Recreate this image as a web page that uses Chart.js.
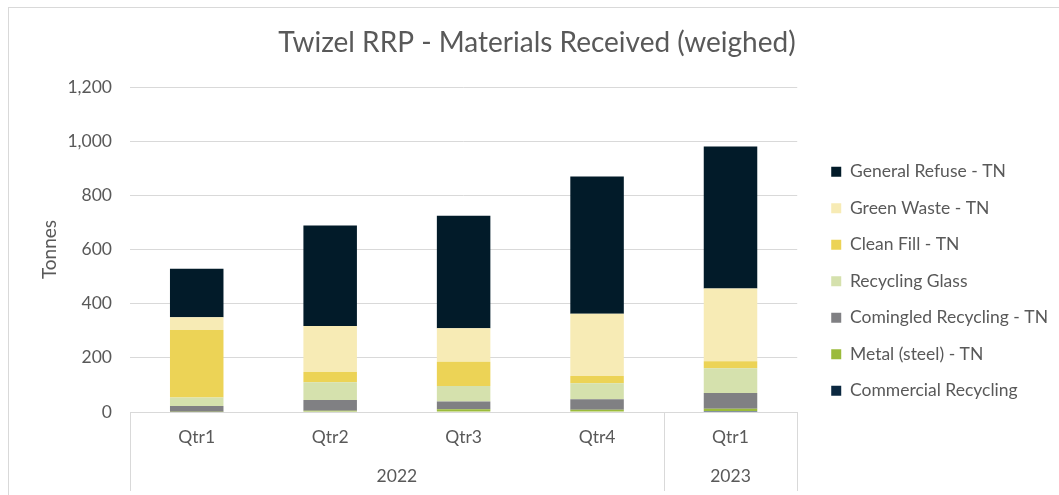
<!DOCTYPE html>
<html><head><meta charset="utf-8">
<script src="https://cdn.jsdelivr.net/npm/chart.js@4"></script>
<style>
html,body{margin:0;padding:0;background:#fff;overflow:hidden}
#wrap{position:relative;width:1059px;height:495px}
#frame{position:absolute;left:8px;top:7px;width:1100px;height:600px;border:1px solid #d9d9d9;pointer-events:none}
</style></head><body>
<div id="wrap"><canvas id="c" width="1059" height="495"></canvas><div id="frame"></div></div>
<script>
const categories = ['Qtr1', 'Qtr2', 'Qtr3', 'Qtr4', 'Qtr1'];
const yearGroups = ['2022', '2022', '2022', '2022', '2023'];

const commercialRecycling = [0, 0, 0, 0, 4];
const metalSteel = [1, 5, 10, 8, 8];
const comingledRecycling = [21, 39, 29, 39, 58];
const recyclingGlass = [32, 66, 57, 59, 92];
const cleanFill = [249, 38, 90, 27, 25];
const greenWaste = [47, 170, 123, 230, 269];
const generalRefuse = [179, 371, 416, 507, 524];

const yMax = 1200;
const yStep = 200;

const seriesNames = ['Commercial Recycling', 'Metal (steel) - TN', 'Comingled Recycling - TN', 'Recycling Glass', 'Clean Fill - TN', 'Green Waste - TN', 'General Refuse - TN'];
const seriesValues = [commercialRecycling, metalSteel, comingledRecycling, recyclingGlass, cleanFill, greenWaste, generalRefuse];
const seriesColors = ['#0b2840', '#9bbb3b', '#808083', '#d5e1ad', '#ecd356', '#f7ebb5', '#021b29'];

const textColor = '#595959';
const gridColor = '#d9d9d9';
const fontFamily = 'Lato, "Open Sans", sans-serif';
const tickFontSize = 17.5;

// group consecutive categories by year
const groups = [];
yearGroups.forEach((y, i) => {
  const g = groups[groups.length - 1];
  if (g && g.label === y) g.end = i; else groups.push({label: y, start: i, end: i});
});

const yearAxisPlugin = {
  id: 'yearAxis',
  afterDraw(chart) {
    const xs = chart.scales.x;
    const ctx = chart.ctx;
    const half = (xs.getPixelForValue(1) - xs.getPixelForValue(0)) / 2;
    const lineTop = xs.top;
    const lineBottom = chart.height - 4;
    ctx.save();
    ctx.strokeStyle = gridColor;
    ctx.lineWidth = 1;
    const edges = [xs.getPixelForValue(0) - half].concat(groups.map(g => xs.getPixelForValue(g.end) + half));
    edges.forEach(px => {
      const x = Math.round(px) + 0.5;
      ctx.beginPath(); ctx.moveTo(x, lineTop); ctx.lineTo(x, lineBottom); ctx.stroke();
    });
    ctx.fillStyle = textColor;
    ctx.font = tickFontSize + 'px ' + fontFamily;
    ctx.textAlign = 'center';
    ctx.textBaseline = 'middle';
    groups.forEach(g => {
      const cx = (xs.getPixelForValue(g.start) + xs.getPixelForValue(g.end)) / 2;
      ctx.fillText(g.label, cx, xs.bottom + 14);
    });
    ctx.restore();
  }
};

new Chart(document.getElementById('c'), {
  type: 'bar',
  data: {
    labels: categories,
    datasets: seriesNames.map((n, i) => ({
      label: n,
      data: seriesValues[i],
      backgroundColor: seriesColors[i],
      borderWidth: 0,
      barPercentage: 0.401,
      categoryPercentage: 1
    }))
  },
  options: {
    responsive: false,
    devicePixelRatio: 1,
    animation: false,
    layout: {padding: {left: 16, right: 1, top: 18, bottom: 33}},
    plugins: {
      title: {
        display: true,
        text: 'Twizel RRP - Materials Received (weighed)',
        color: textColor,
        font: {family: fontFamily, size: 28, weight: 'normal'},
        padding: {top: 8.2, bottom: 27.2}
      },
      legend: {
        position: 'right',
        reverse: true,
        maxWidth: 400,
        title: {display: true, text: '', font: {family: fontFamily, size: 16}, padding: {top: 31, bottom: 32.3}},
        labels: {
          boxWidth: 10, boxHeight: 10, padding: 19,
          color: textColor,
          font: {family: fontFamily, size: tickFontSize}
        }
      },
      tooltip: {enabled: false}
    },
    scales: {
      x: {
        stacked: true,
        ticks: {color: textColor, font: {family: fontFamily, size: tickFontSize}, padding: 14.5, maxRotation: 0, autoSkip: false},
        grid: {display: false, drawTicks: false},
        border: {display: true, color: gridColor, width: 1}
      },
      y: {
        stacked: true,
        min: 0,
        max: yMax,
        afterFit: s => { s.width = 114; },
        ticks: {stepSize: yStep, color: textColor, font: {family: fontFamily, size: tickFontSize}, padding: 18},
        grid: {color: gridColor, drawTicks: false},
        border: {display: false},
        title: {display: true, text: 'Tonnes', color: textColor, font: {family: fontFamily, size: 19}, padding: {top: 22.6, bottom: 6.6}}
      },
      yRightGap: {
        type: 'linear',
        position: 'right',
        display: true,
        afterFit: s => { s.width = 15; },
        ticks: {display: false},
        grid: {display: false},
        border: {display: false}
      }
    }
  },
  plugins: [yearAxisPlugin]
});
</script>
</body></html>
